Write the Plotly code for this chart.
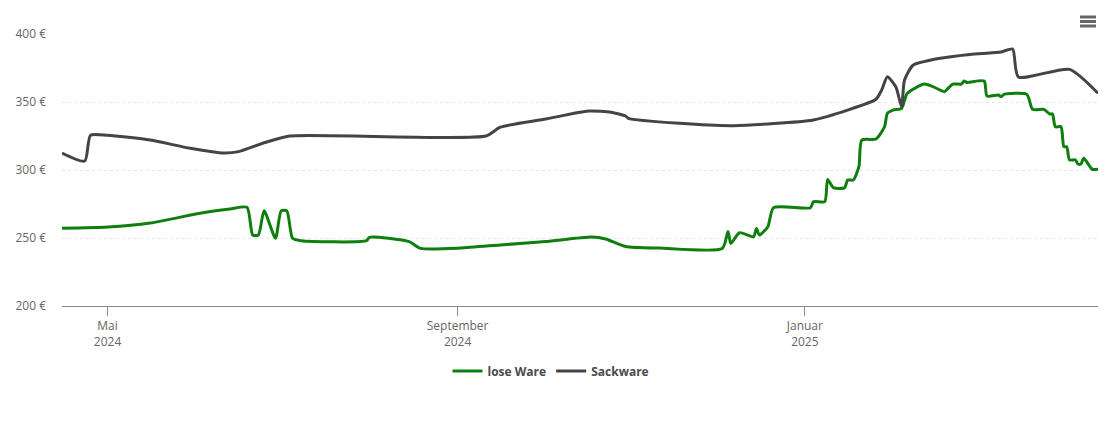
import plotly.graph_objects as go

GREEN = "#0e7f0e"
DARK = "#444448"
LABEL = "#666666"
GRID = "#e6e6e6"

# lose Ware
lose_dates = [
    "2024-04-15", "2024-05-01", "2024-05-16", "2024-06-03", "2024-06-13",
    "2024-06-19", "2024-06-21", "2024-06-23", "2024-06-25", "2024-06-29",
    "2024-07-01", "2024-07-03", "2024-07-05", "2024-07-08", "2024-07-31",
    "2024-08-01", "2024-08-15", "2024-08-19", "2024-09-02", "2024-09-16",
    "2024-10-02", "2024-10-18", "2024-10-23", "2024-10-30", "2024-11-11",
    "2024-12-03", "2024-12-05", "2024-12-06", "2024-12-09", "2024-12-14",
    "2024-12-15", "2024-12-16", "2024-12-19", "2024-12-21", "2025-01-03",
    "2025-01-04", "2025-01-08", "2025-01-09", "2025-01-11", "2025-01-15",
    "2025-01-16", "2025-01-18", "2025-01-20", "2025-01-21", "2025-01-26",
    "2025-01-29", "2025-01-30", "2025-02-01", "2025-02-04", "2025-02-06",
    "2025-02-12", "2025-02-15", "2025-02-19", "2025-02-20", "2025-02-22",
    "2025-02-25", "2025-02-26", "2025-02-27", "2025-03-05", "2025-03-06",
    "2025-03-10", "2025-03-11", "2025-03-12", "2025-03-20", "2025-03-22",
    "2025-03-26", "2025-03-28", "2025-03-29", "2025-03-30", "2025-04-01",
    "2025-04-02", "2025-04-03", "2025-04-04", "2025-04-06", "2025-04-07",
    "2025-04-08", "2025-04-09", "2025-04-12", "2025-04-14",
]
lose_prices = [
    257.1, 258.0, 261.0, 268.4, 271.3,
    272.6, 252.2, 252.2, 270.0, 249.8,
    270.0, 270.0, 249.8, 248.0, 248.0,
    250.5, 247.3, 242.4, 242.6, 244.9,
    247.4, 250.7, 249.3, 243.8, 242.6,
    242.3, 254.7, 246.0, 253.9, 251.0,
    257.0, 252.2, 258.3, 272.3, 272.3,
    276.7, 276.7, 293.1, 287.0, 287.0,
    292.6, 292.6, 302.4, 322.0, 322.8,
    331.8, 341.7, 344.0, 345.4, 356.4,
    363.2, 361.3, 357.6, 359.3, 363.2,
    363.2, 365.4, 364.4, 365.4, 354.4,
    355.1, 353.9, 355.6, 355.6, 344.6,
    344.6, 341.2, 341.2, 331.8, 331.8,
    317.1, 317.1, 307.4, 307.4, 304.4,
    304.4, 308.6, 300.5, 300.5,
]

# Sackware
sack_dates = [
    "2024-04-15", "2024-04-23", "2024-04-25", "2024-05-01", "2024-05-16",
    "2024-05-30", "2024-06-11", "2024-06-16", "2024-06-25", "2024-07-04",
    "2024-09-11", "2024-09-16", "2024-10-02", "2024-10-17", "2024-10-25",
    "2024-10-30", "2024-10-31", "2024-11-18", "2024-12-07", "2025-01-04",
    "2025-01-16", "2025-01-26", "2025-01-28", "2025-01-30", "2025-02-02",
    "2025-02-04", "2025-02-05", "2025-02-08", "2025-02-17", "2025-02-28",
    "2025-03-11", "2025-03-15", "2025-03-17", "2025-04-04", "2025-04-14",
]
sack_prices = [
    312.5, 306.6, 325.5, 325.5, 322.0,
    316.0, 312.5, 313.5, 320.0, 325.0,
    325.0, 331.5, 337.5, 343.4, 342.5,
    339.7, 338.0, 334.3, 332.6, 336.8,
    344.0, 352.0, 358.8, 368.6, 361.0,
    346.5, 366.0, 377.0, 382.0, 385.0,
    386.8, 389.0, 368.4, 374.0, 356.4,
]

tick_dates = ["2024-05-01", "2024-09-01", "2025-01-01"]
tick_texts = ["Mai<br>2024", "September<br>2024", "Januar<br>2025"]
y_ticks = [200, 250, 300, 350, 400]
y_texts = ["200 €", "250 €", "300 €", "350 €", "400 €"]

fig = go.Figure()

fig.add_trace(go.Scatter(
    x=lose_dates, y=lose_prices, name="lose Ware", mode="lines",
    line=dict(color=GREEN, width=3, shape="spline", smoothing=0.6),
))
fig.add_trace(go.Scatter(
    x=sack_dates, y=sack_prices, name="Sackware", mode="lines",
    line=dict(color=DARK, width=3, shape="spline", smoothing=0.6),
))

# hamburger menu icon (three short bars, top right)
menu_shapes = []
for py in (17, 21.5, 26):
    yp = 1 + (34 - py) / 272
    menu_shapes.append(dict(
        type="line", xref="paper", yref="paper",
        x0=(1080 - 62) / 1036, x1=(1096 - 62) / 1036, y0=yp, y1=yp,
        line=dict(color="#666666", width=3),
    ))

# page body has an 8px margin, so margins are trimmed to match
fig.update_layout(
    paper_bgcolor="white", plot_bgcolor="white",
    margin=dict(l=54, r=4, t=26, b=108),
    font=dict(family="Open Sans, sans-serif", size=12, color=LABEL),
    showlegend=True,
    legend=dict(
        orientation="h", x=(551 - 62) / 1036, xanchor="center",
        y=-0.239, yanchor="middle",
        font=dict(size=12, color="#4a4a4a", family="Open Sans, sans-serif", weight="bold"),
        itemwidth=30,
    ),
    xaxis=dict(
        type="date", range=["2024-04-15", "2025-04-14"],
        tickvals=tick_dates, ticktext=tick_texts,
        showgrid=False, zeroline=False,
        showline=True, linecolor="#8a8a8a", linewidth=1,
        ticks="outside", ticklen=9, tickcolor="#8a8a8a",
        tickfont=dict(size=12, color=LABEL),
    ),
    yaxis=dict(
        range=[200, 400], tickvals=y_ticks, ticktext=y_texts,
        showgrid=True, gridcolor=GRID, griddash="dot", gridwidth=1,
        zeroline=False, showline=False,
        ticklabelstandoff=15,
        tickfont=dict(size=12, color=LABEL),
    ),
    shapes=menu_shapes,
)

fig.write_html("out.html", config={"displayModeBar": False})
